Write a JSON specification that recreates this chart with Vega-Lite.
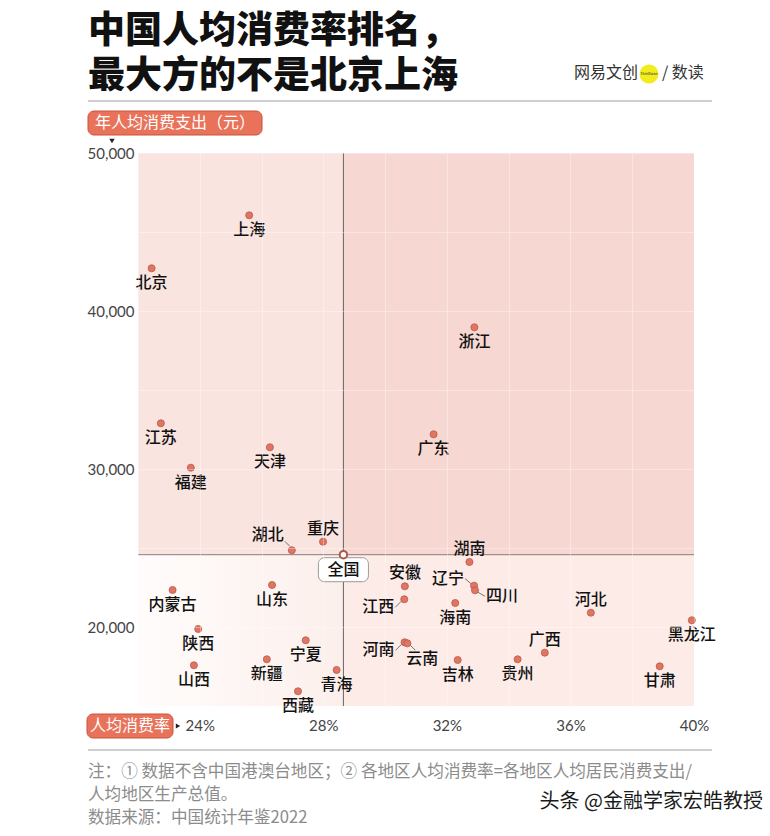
{
  "$schema": "https://vega.github.io/schema/vega-lite/v6.json",
  "width": 556,
  "height": 553,
  "autosize": {"type": "none"},
  "padding": {"left": 138, "top": 153, "right": 76, "bottom": 130},
  "background": "white",
  "config": {"view": {"stroke": null}, "font": "Noto Sans CJK SC"},
  "title": {
    "text": ["中国人均消费率排名，", "最大方的不是北京上海"],
    "anchor": "start",
    "frame": "group",
    "dx": -50,
    "offset": 0,
    "dy": 31,
    "fontSize": 37,
    "fontWeight": 900,
    "color": "#111111",
    "font": "Noto Sans CJK SC",
    "lineHeight": 45
  },
  "datasets": {
    "quads": [
      {"quad": "UL", "x1": 22, "x2": 28.65, "y1": 24576, "y2": 50000},
      {"quad": "UR", "x1": 28.65, "x2": 40, "y1": 24576, "y2": 50000},
      {"quad": "LR", "x1": 28.65, "x2": 40, "y1": 15000, "y2": 24576},
      {"quad": "LL", "x1": 22, "x2": 28.65, "y1": 15000, "y2": 24576}
    ],
    "provinces": [
      {"region": "上海", "rate": 25.60, "spend": 46057},
      {"region": "北京", "rate": 22.44, "spend": 42703},
      {"region": "浙江", "rate": 32.89, "spend": 38969},
      {"region": "江苏", "rate": 22.74, "spend": 32893},
      {"region": "广东", "rate": 31.57, "spend": 32196},
      {"region": "天津", "rate": 26.27, "spend": 31374},
      {"region": "福建", "rate": 23.71, "spend": 30083},
      {"region": "重庆", "rate": 27.99, "spend": 25399},
      {"region": "湖北", "rate": 26.98, "spend": 24855},
      {"region": "全国", "rate": 28.65, "spend": 24576},
      {"region": "湖南", "rate": 32.73, "spend": 24114},
      {"region": "山东", "rate": 26.34, "spend": 22659},
      {"region": "辽宁", "rate": 32.88, "spend": 22614},
      {"region": "安徽", "rate": 30.64, "spend": 22576},
      {"region": "内蒙古", "rate": 23.12, "spend": 22342},
      {"region": "四川", "rate": 32.91, "spend": 22323},
      {"region": "江西", "rate": 30.62, "spend": 21754},
      {"region": "海南", "rate": 32.27, "spend": 21519},
      {"region": "河北", "rate": 36.66, "spend": 20905},
      {"region": "黑龙江", "rate": 39.93, "spend": 20424},
      {"region": "陕西", "rate": 23.95, "spend": 19874},
      {"region": "宁夏", "rate": 27.43, "spend": 19159},
      {"region": "河南", "rate": 30.63, "spend": 19032},
      {"region": "云南", "rate": 30.72, "spend": 18969},
      {"region": "广西", "rate": 35.17, "spend": 18374},
      {"region": "新疆", "rate": 26.17, "spend": 17956},
      {"region": "贵州", "rate": 34.29, "spend": 17956},
      {"region": "吉林", "rate": 32.35, "spend": 17912},
      {"region": "山西", "rate": 23.81, "spend": 17577},
      {"region": "甘肃", "rate": 38.89, "spend": 17513},
      {"region": "青海", "rate": 28.43, "spend": 17279},
      {"region": "西藏", "rate": 27.18, "spend": 15931}
    ]
  },
  "layer": [
    {
      "data": {"name": "quads"},
      "mark": {"type": "rect"},
      "encoding": {
        "x": {"field": "x1", "type": "quantitative", "title": null,
          "scale": {"domain": [22, 40], "nice": false, "zero": false},
          "axis": {"values": [22, 24, 26, 28, 30, 32, 34, 36, 38, 40], "labelExpr": "datum.value % 4 === 0 ? datum.value + '%' : ''",
            "domain": false, "ticks": false, "labelPadding": 12, "labelFontSize": 15, "labelColor": "#444444", "labelFont": "Lato",
            "labelOverlap": false, "labelFlush": false, "grid": true, "gridColor": "#ffffff", "gridOpacity": 0.35, "zindex": 1}},
        "x2": {"field": "x2"},
        "y": {"field": "y1", "type": "quantitative", "title": null,
          "scale": {"domain": [15000, 50000], "nice": false, "zero": false},
          "axis": {"values": [15000, 20000, 25000, 30000, 35000, 40000, 45000, 50000], "labelExpr": "datum.value % 10000 === 0 ? format(datum.value, ',') : ''",
            "domain": false, "ticks": false, "labelPadding": 4, "labelFontSize": 15, "labelColor": "#444444", "labelFont": "Lato",
            "labelOverlap": false, "labelFlush": false, "grid": true, "gridColor": "#ffffff", "gridOpacity": 0.35, "zindex": 1}},
        "y2": {"field": "y2"},
        "fill": {"field": "quad", "type": "nominal", "legend": null,
          "scale": {"domain": ["UL", "UR", "LR", "LL"], "range": ["#f9e4e0", "#f6d7d1", "#fcebe7", "#fdf3f0"]}}
      }
    },
    {
      "data": {"name": "quads"},
      "transform": [{"filter": "datum.quad === 'LL'"}],
      "mark": {"type": "rect", "color": {"gradient": "linear", "x1": 0, "x2": 1, "y1": 0, "y2": 0,
        "stops": [{"offset": 0, "color": "#fffcfb"}, {"offset": 1, "color": "#fcefeb"}]}},
      "encoding": {
        "x": {"field": "x1", "type": "quantitative", "title": null},
        "x2": {"field": "x2"},
        "y": {"field": "y1", "type": "quantitative", "title": null},
        "y2": {"field": "y2"}
      }
    },
    {
      "data": {"name": "provinces"},
      "transform": [{"filter": "datum.region === '全国'"}],
      "mark": {"type": "rule", "color": "#666666", "strokeWidth": 1},
      "encoding": {"x": {"field": "rate", "type": "quantitative", "title": null}}
    },
    {
      "data": {"name": "provinces"},
      "transform": [{"filter": "datum.region === '全国'"}],
      "mark": {"type": "rule", "color": "#8a7a78", "strokeWidth": 1},
      "encoding": {"y": {"field": "spend", "type": "quantitative", "title": null}}
    },
    {
      "data": {"name": "provinces"},
      "transform": [{"filter": "datum.region === '湖北'"}],
      "mark": {"type": "rule", "color": "#555555", "strokeWidth": 0.8, "xOffset": -2, "yOffset": -4, "x2Offset": -7, "y2Offset": -9},
      "encoding": {"x": {"field": "rate", "type": "quantitative", "title": null}, "x2": {"field": "rate"}, "y": {"field": "spend", "type": "quantitative", "title": null}, "y2": {"field": "spend"}}
    },
    {
      "data": {"name": "provinces"},
      "transform": [{"filter": "datum.region === '辽宁'"}],
      "mark": {"type": "rule", "color": "#555555", "strokeWidth": 0.8, "xOffset": -9, "yOffset": -7, "x2Offset": -3, "y2Offset": -2},
      "encoding": {"x": {"field": "rate", "type": "quantitative", "title": null}, "x2": {"field": "rate"}, "y": {"field": "spend", "type": "quantitative", "title": null}, "y2": {"field": "spend"}}
    },
    {
      "data": {"name": "provinces"},
      "transform": [{"filter": "datum.region === '四川'"}],
      "mark": {"type": "rule", "color": "#555555", "strokeWidth": 0.8, "xOffset": 3, "yOffset": 2, "x2Offset": 10, "y2Offset": 6},
      "encoding": {"x": {"field": "rate", "type": "quantitative", "title": null}, "x2": {"field": "rate"}, "y": {"field": "spend", "type": "quantitative", "title": null}, "y2": {"field": "spend"}}
    },
    {
      "data": {"name": "provinces"},
      "transform": [{"filter": {"field": "region", "oneOf": ["江西", "河南"]}}],
      "mark": {"type": "rule", "color": "#555555", "strokeWidth": 0.8, "xOffset": -9, "yOffset": 8, "x2Offset": -3, "y2Offset": 2},
      "encoding": {"x": {"field": "rate", "type": "quantitative", "title": null}, "x2": {"field": "rate"}, "y": {"field": "spend", "type": "quantitative", "title": null}, "y2": {"field": "spend"}}
    },
    {
      "data": {"name": "provinces"},
      "transform": [{"filter": "datum.region === '云南'"}],
      "mark": {"type": "rule", "color": "#555555", "strokeWidth": 0.8, "xOffset": 3, "yOffset": 2, "x2Offset": 8, "y2Offset": 7},
      "encoding": {"x": {"field": "rate", "type": "quantitative", "title": null}, "x2": {"field": "rate"}, "y": {"field": "spend", "type": "quantitative", "title": null}, "y2": {"field": "spend"}}
    },
    {
      "data": {"name": "provinces"},
      "transform": [{"filter": "datum.region !== '全国'"}],
      "mark": {"type": "circle", "size": 50, "fill": "#e07562", "stroke": "#b85a4b", "strokeWidth": 0.8, "opacity": 1},
      "encoding": {
        "x": {"field": "rate", "type": "quantitative", "title": null},
        "y": {"field": "spend", "type": "quantitative", "title": null}
      }
    },
    {
      "data": {"name": "provinces"},
      "transform": [{"filter": "datum.region === '全国'"}],
      "mark": {"type": "rect", "width": 50, "height": 24, "cornerRadius": 6, "yOffset": 15, "fill": "#ffffff", "stroke": "#999999", "strokeWidth": 1},
      "encoding": {
        "x": {"field": "rate", "type": "quantitative", "title": null},
        "y": {"field": "spend", "type": "quantitative", "title": null}
      }
    },
    {
      "data": {"name": "provinces"},
      "transform": [{"filter": "datum.region === '全国'"}],
      "mark": {"type": "circle", "size": 55, "fill": "#ffffff", "stroke": "#b0574a", "strokeWidth": 2, "opacity": 1},
      "encoding": {
        "x": {"field": "rate", "type": "quantitative", "title": null},
        "y": {"field": "spend", "type": "quantitative", "title": null}
      }
    },
    {
      "data": {"name": "provinces"},
      "transform": [{"filter": {"field": "region", "oneOf": ["上海", "北京", "浙江", "江苏", "广东", "天津", "福建", "海南", "吉林", "贵州", "甘肃", "山东", "陕西", "宁夏", "新疆", "山西", "西藏", "内蒙古", "黑龙江", "青海", "全国"]}}],
      "mark": {"type": "text", "fontSize": 16, "fontWeight": 500, "color": "#111111", "dy": 15, "align": "center", "baseline": "middle"},
      "encoding": {
        "x": {"field": "rate", "type": "quantitative", "title": null},
        "y": {"field": "spend", "type": "quantitative", "title": null},
        "text": {"field": "region"}
      }
    },
    {
      "data": {"name": "provinces"},
      "transform": [{"filter": {"field": "region", "oneOf": ["重庆", "湖南", "广西", "安徽", "河北"]}}],
      "mark": {"type": "text", "fontSize": 16, "fontWeight": 500, "color": "#111111", "dy": -13, "align": "center", "baseline": "middle"},
      "encoding": {
        "x": {"field": "rate", "type": "quantitative", "title": null},
        "y": {"field": "spend", "type": "quantitative", "title": null},
        "text": {"field": "region"}
      }
    },
    {
      "data": {"name": "provinces"},
      "transform": [{"filter": {"field": "region", "oneOf": ["江西", "河南"]}}],
      "mark": {"type": "text", "fontSize": 16, "fontWeight": 500, "color": "#111111", "dx": -26, "dy": 8, "align": "center", "baseline": "middle"},
      "encoding": {
        "x": {"field": "rate", "type": "quantitative", "title": null},
        "y": {"field": "spend", "type": "quantitative", "title": null},
        "text": {"field": "region"}
      }
    },
    {
      "data": {"name": "provinces"},
      "transform": [{"filter": "datum.region === '湖北'"}],
      "mark": {"type": "text", "fontSize": 16, "fontWeight": 500, "color": "#111111", "dx": -24, "dy": -15, "align": "center", "baseline": "middle"},
      "encoding": {
        "x": {"field": "rate", "type": "quantitative", "title": null},
        "y": {"field": "spend", "type": "quantitative", "title": null},
        "text": {"field": "region"}
      }
    },
    {
      "data": {"name": "provinces"},
      "transform": [{"filter": "datum.region === '辽宁'"}],
      "mark": {"type": "text", "fontSize": 16, "fontWeight": 500, "color": "#111111", "dx": -26, "dy": -7, "align": "center", "baseline": "middle"},
      "encoding": {
        "x": {"field": "rate", "type": "quantitative", "title": null},
        "y": {"field": "spend", "type": "quantitative", "title": null},
        "text": {"field": "region"}
      }
    },
    {
      "data": {"name": "provinces"},
      "transform": [{"filter": "datum.region === '四川'"}],
      "mark": {"type": "text", "fontSize": 16, "fontWeight": 500, "color": "#111111", "dx": 27, "dy": 6, "align": "center", "baseline": "middle"},
      "encoding": {
        "x": {"field": "rate", "type": "quantitative", "title": null},
        "y": {"field": "spend", "type": "quantitative", "title": null},
        "text": {"field": "region"}
      }
    },
    {
      "data": {"name": "provinces"},
      "transform": [{"filter": "datum.region === '云南'"}],
      "mark": {"type": "text", "fontSize": 16, "fontWeight": 500, "color": "#111111", "dx": 15, "dy": 16, "align": "center", "baseline": "middle"},
      "encoding": {
        "x": {"field": "rate", "type": "quantitative", "title": null},
        "y": {"field": "spend", "type": "quantitative", "title": null},
        "text": {"field": "region"}
      }
    },
    {
      "data": {"values": [{}]},
      "mark": {"type": "rule", "stroke": "#cfcfcf", "strokeWidth": 2},
      "encoding": {"x": {"value": -50}, "x2": {"value": 574}, "y": {"value": -52}, "y2": {"value": -52}}
    },
    {
      "data": {"values": [{}]},
      "mark": {"type": "rule", "stroke": "#cfcfcf", "strokeWidth": 2},
      "encoding": {"x": {"value": -50}, "x2": {"value": 574}, "y": {"value": 597}, "y2": {"value": 597}}
    },
    {
      "data": {"values": [{}]},
      "mark": {"type": "text", "text": "网易文创", "fontSize": 16, "color": "#333333", "align": "left", "baseline": "middle"},
      "encoding": {"x": {"value": 436}, "y": {"value": -80}}
    },
    {
      "data": {"values": [{}]},
      "mark": {"type": "circle", "size": 360, "fill": "#f3ec1c", "opacity": 1},
      "encoding": {"x": {"value": 511}, "y": {"value": -79}}
    },
    {
      "data": {"values": [{}]},
      "mark": {"type": "text", "text": "NetEase", "fontSize": 4, "color": "#333333", "align": "center", "baseline": "middle", "font": "DejaVu Serif"},
      "encoding": {"x": {"value": 511}, "y": {"value": -79}}
    },
    {
      "data": {"values": [{}]},
      "mark": {"type": "text", "text": "/ 数读", "fontSize": 16, "color": "#333333", "align": "left", "baseline": "middle"},
      "encoding": {"x": {"value": 524}, "y": {"value": -80}}
    },
    {
      "data": {"values": [{}]},
      "mark": {"type": "rect", "cornerRadius": 6, "fill": "#e8735a", "stroke": "#c8553f", "strokeWidth": 1},
      "encoding": {"x": {"value": -50}, "x2": {"value": 124}, "y": {"value": -42}, "y2": {"value": -18}}
    },
    {
      "data": {"values": [{}]},
      "mark": {"type": "text", "text": "年人均消费支出（元）", "fontSize": 16, "color": "#ffffff", "align": "center", "baseline": "middle"},
      "encoding": {"x": {"value": 37}, "y": {"value": -30}}
    },
    {
      "data": {"values": [{}]},
      "mark": {"type": "point", "shape": "triangle-down", "size": 30, "filled": true, "color": "#222222", "opacity": 1},
      "encoding": {"x": {"value": -26}, "y": {"value": -12}}
    },
    {
      "data": {"values": [{}]},
      "mark": {"type": "rect", "cornerRadius": 6, "fill": "#e8735a", "stroke": "#c8553f", "strokeWidth": 1},
      "encoding": {"x": {"value": -51}, "x2": {"value": 35}, "y": {"value": 561}, "y2": {"value": 585}}
    },
    {
      "data": {"values": [{}]},
      "mark": {"type": "text", "text": "人均消费率", "fontSize": 16, "color": "#ffffff", "align": "center", "baseline": "middle"},
      "encoding": {"x": {"value": -8}, "y": {"value": 573}}
    },
    {
      "data": {"values": [{}]},
      "mark": {"type": "point", "shape": "triangle-right", "size": 25, "filled": true, "color": "#222222", "opacity": 1},
      "encoding": {"x": {"value": 40}, "y": {"value": 573}}
    },
    {
      "data": {"values": [{}]},
      "mark": {"type": "text", "text": "注：① 数据不含中国港澳台地区；② 各地区人均消费率=各地区人均居民消费支出/", "fontSize": 16.6, "color": "#8c8c8c", "align": "left", "baseline": "middle"},
      "encoding": {"x": {"value": -50}, "y": {"value": 619}}
    },
    {
      "data": {"values": [{}]},
      "mark": {"type": "text", "text": "人均地区生产总值。", "fontSize": 16.6, "color": "#8c8c8c", "align": "left", "baseline": "middle"},
      "encoding": {"x": {"value": -50}, "y": {"value": 642}}
    },
    {
      "data": {"values": [{}]},
      "mark": {"type": "text", "text": "数据来源：中国统计年鉴2022", "fontSize": 16.6, "color": "#8c8c8c", "align": "left", "baseline": "middle"},
      "encoding": {"x": {"value": -50}, "y": {"value": 665}}
    },
    {
      "data": {"values": [{}]},
      "mark": {"type": "text", "text": "头条 @金融学家宏皓教授", "fontSize": 20, "color": "#1a1a1a", "align": "right", "baseline": "middle"},
      "encoding": {"x": {"value": 625}, "y": {"value": 649}}
    }
  ]
}
